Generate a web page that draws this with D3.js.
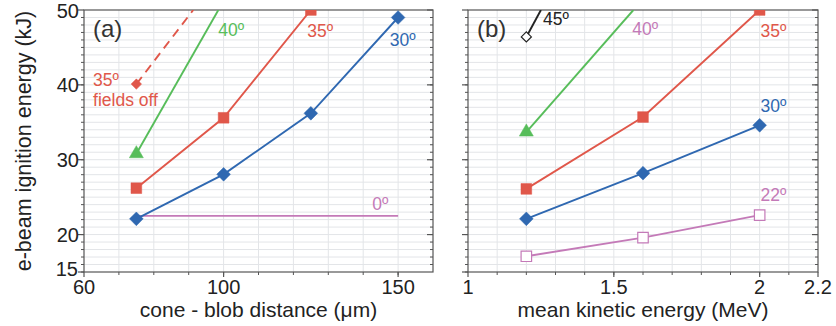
<!DOCTYPE html>
<html>
<head>
<meta charset="utf-8">
<script src="https://cdn.jsdelivr.net/npm/d3@7"></script>
<style>
  body { margin: 0; background: #fff; }
  svg { display: block; font-family: "Liberation Sans", Arial, sans-serif; }
</style>
</head>
<body>
<div class="chart"></div>
<script>
const width = 836;
const height = 326;

// panel (a): cone - blob distance (um)
const distA = [75, 100, 125, 150];
const a30 = [22.1, 28.05, 36.2, 49.0];
const a35 = [26.2, 35.6, 50.0];
const a40 = [30.8, 50.0];
const a40x = [75, 98.5];
const a35off = [40.1, 50.0];
const a35offX = [75, 91.3];
const a0 = [22.5, 22.5];
const a0x = [75, 150];

// panel (b): mean kinetic energy (MeV)
const keB = [1.2, 1.6, 2.0];
const b35 = [26.1, 35.7, 50.0];
const b30 = [22.1, 28.2, 34.6];
const b22 = [17.1, 19.6, 22.6];
const b40 = [33.7, 50.0];
const b40x = [1.2, 1.567];
const b45 = [46.4, 50.0];
const b45x = [1.2, 1.25];

const yTicks = [15, 20, 30, 40, 50];
const xTicksA = [60, 100, 150];
const xTicksB = [1, 1.5, 2, 2.2];

const colors = { blue: "#2f68b1", red: "#e0574a", green: "#57bd5a", pink: "#c47ab8", black: "#222" };

const svg = d3.select("div.chart")
    .append("svg")
    .attr("width", width)
    .attr("height", height);

const plotTop = 10, plotBottom = 272;
const y = d3.scaleLinear().domain([15, 50]).range([plotBottom, plotTop]);

function drawPanel(id, left, right, xDomain, xMinorStep, xTicks, xLabel, tag, series, labels, tickFmt) {
    const x = d3.scaleLinear().domain(xDomain).range([left, right]);
    const g = svg.append("g").attr("class", "panel-" + id);

    svg.append("clipPath").attr("id", "clip-" + id)
        .append("rect").attr("x", left).attr("y", plotTop).attr("width", right - left).attr("height", plotBottom - plotTop);

    // grid
    const yMinor = d3.range(16, 50, 1);
    g.append("g").selectAll("line").data(yMinor).join("line")
        .attr("x1", left).attr("x2", right)
        .attr("y1", d => y(d)).attr("y2", d => y(d))
        .attr("stroke", "#e3e5e8").attr("stroke-width", 1);
    const xMinor = d3.range(xDomain[0] + xMinorStep, xDomain[1] - xMinorStep / 2, xMinorStep);
    g.append("g").selectAll("line").data(xMinor).join("line")
        .attr("x1", d => x(d)).attr("x2", d => x(d))
        .attr("y1", plotTop).attr("y2", plotBottom)
        .attr("stroke", "#e3e5e8").attr("stroke-width", 1);

    // frame
    g.append("rect").attr("x", left).attr("y", plotTop).attr("width", right - left).attr("height", plotBottom - plotTop)
        .attr("fill", "none").attr("stroke", "#555").attr("stroke-width", 1.2);

    // left y axis
    const yMajor = [20, 30, 40, 50];
    g.append("g").selectAll("line").data(yMinor.concat([15])).join("line")
        .attr("x1", left - 3).attr("x2", left).attr("y1", d => y(d)).attr("y2", d => y(d))
        .attr("stroke", "#555");
    g.append("g").selectAll("line").data(yMajor.concat([15])).join("line")
        .attr("x1", left - 6).attr("x2", left).attr("y1", d => y(d)).attr("y2", d => y(d))
        .attr("stroke", "#555").attr("stroke-width", 1.2);
    // right mirror ticks
    g.append("g").selectAll("line").data(yMinor).join("line")
        .attr("x1", right - 3).attr("x2", right).attr("y1", d => y(d)).attr("y2", d => y(d))
        .attr("stroke", "#555");
    g.append("g").selectAll("line").data(yMajor).join("line")
        .attr("x1", right - 6).attr("x2", right).attr("y1", d => y(d)).attr("y2", d => y(d))
        .attr("stroke", "#555").attr("stroke-width", 1.2);

    if (id === "a") {
        g.append("g").selectAll("text").data(yTicks).join("text")
            .attr("x", d => left - (d === 15 ? 6 : 5))
            .attr("y", d => y(d) + (d === 50 ? 1 : d === 15 ? -3 : 0)).attr("dy", "0.36em")
            .attr("text-anchor", "end").attr("font-size", 20).attr("fill", "#222")
            .text(d => d);
    }

    // bottom x ticks
    g.append("g").selectAll("line").data(xMinor).join("line")
        .attr("x1", d => x(d)).attr("x2", d => x(d)).attr("y1", plotBottom).attr("y2", plotBottom + 3)
        .attr("stroke", "#555");
    g.append("g").selectAll("line").data(xTicks).join("line")
        .attr("x1", d => x(d)).attr("x2", d => x(d)).attr("y1", plotBottom).attr("y2", plotBottom + 5)
        .attr("stroke", "#555").attr("stroke-width", 1.2);
    g.append("g").selectAll("text").data(xTicks).join("text")
        .attr("x", d => x(d)).attr("y", 294)
        .attr("text-anchor", "middle").attr("font-size", 20).attr("fill", "#222")
        .text(tickFmt);

    g.append("text").attr("x", (left + right) / 2).attr("y", 317)
        .attr("text-anchor", "middle").attr("font-size", 21).attr("fill", "#222")
        .text(xLabel);

    g.append("text").attr("x", left + 9).attr("y", 37)
        .attr("font-size", 24).attr("fill", "#333").text(tag);

    // series
    const plot = g.append("g").attr("clip-path", `url(#clip-${id})`);
    const line = d3.line().x(d => x(d[0])).y(d => y(d[1]));
    series.forEach(s => {
        const pts = s.xs.map((xv, i) => [xv, s.ys[i]]);
        plot.append("path").attr("d", line(pts))
            .attr("fill", "none").attr("stroke", s.color).attr("stroke-width", 1.9)
            .attr("stroke-dasharray", s.dash || null);
        if (s.symbol) {
            const markPts = s.markAll ? pts : pts.slice(0, 1);
            plot.append("g").selectAll("path").data(markPts).join("path")
                .attr("transform", d => `translate(${x(d[0])},${y(d[1])})`)
                .attr("d", d3.symbol().type(s.symbol).size(s.size)())
                .attr("fill", s.open ? "#fff" : s.color)
                .attr("stroke", s.color).attr("stroke-width", s.open ? 1.2 : 0.5);
        }
    });

    labels.forEach(l => {
        g.append("text").attr("x", x(l.x)).attr("y", l.y)
            .attr("font-size", 17.5).attr("fill", l.color)
            .text(l.text);
    });
}

drawPanel("a", 84, 433, [60, 160], 10, xTicksA, "cone - blob distance (\u03bcm)", "(a)", [
    { xs: a0x, ys: a0, color: colors.pink },
    { xs: a35offX, ys: a35off, color: colors.red, dash: "9,6", symbol: d3.symbolDiamond2, size: 70, markAll: false },
    { xs: a40x, ys: a40, color: colors.green, symbol: d3.symbolTriangle, size: 85, markAll: false },
    { xs: distA.slice(0, 3), ys: a35, color: colors.red, symbol: d3.symbolSquare, size: 115, markAll: true },
    { xs: distA, ys: a30, color: colors.blue, symbol: d3.symbolDiamond2, size: 120, markAll: true }
], [
    { x: 98.5, y: 36, text: "40º", color: colors.green },
    { x: 124, y: 37, text: "35º", color: colors.red },
    { x: 147.6, y: 46, text: "30º", color: colors.blue },
    { x: 62.6, y: 86, text: "35º", color: colors.red },
    { x: 62.6, y: 106, text: "fields off", color: colors.red },
    { x: 142.6, y: 210, text: "0º", color: colors.pink }
], d => d);

drawPanel("b", 468, 818, [1, 2.2], 0.1, xTicksB, "mean kinetic energy (MeV)", "(b)", [
    { xs: b45x, ys: b45, color: colors.black, symbol: d3.symbolDiamond2, size: 65, markAll: false, open: true },
    { xs: b40x, ys: b40, color: colors.green, symbol: d3.symbolTriangle, size: 85, markAll: false },
    { xs: keB, ys: b22, color: colors.pink, symbol: d3.symbolSquare, size: 110, markAll: true, open: true },
    { xs: keB, ys: b35, color: colors.red, symbol: d3.symbolSquare, size: 115, markAll: true },
    { xs: keB, ys: b30, color: colors.blue, symbol: d3.symbolDiamond2, size: 120, markAll: true }
], [
    { x: 1.257, y: 25, text: "45º", color: colors.black },
    { x: 1.563, y: 35, text: "40º", color: colors.pink },
    { x: 2.003, y: 37, text: "35º", color: colors.red },
    { x: 2.003, y: 112, text: "30º", color: colors.blue },
    { x: 2.003, y: 201, text: "22º", color: colors.pink }
], d => d);

svg.append("text")
    .attr("transform", `translate(31,${(plotTop + plotBottom) / 2}) rotate(-90)`)
    .attr("text-anchor", "middle").attr("font-size", 21.5).attr("fill", "#222")
    .text("e-beam ignition energy (kJ)");
</script>
</body>
</html>
